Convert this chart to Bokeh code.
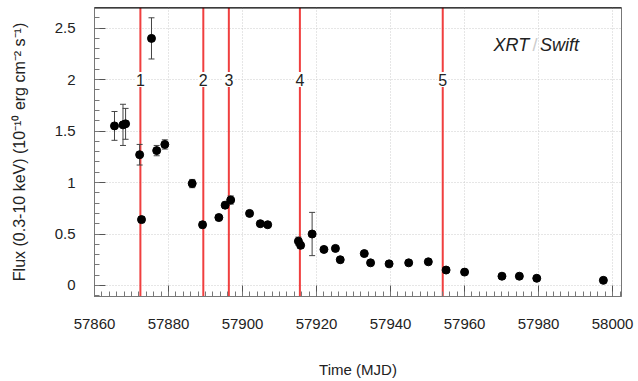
from bokeh.plotting import figure
from bokeh.models import (ColumnDataSource, Range1d, SingleIntervalTicker, Span,
                          Whisker, TeeHead, Label, LabelSet)
from bokeh.core.properties import value
from bokeh.embed import file_html
from bokeh.resources import INLINE

# ---- data ----
time_mjd = [57865.4, 57867.7, 57868.4, 57872.2, 57872.7, 57875.4, 57876.8, 57879.0,
            57886.4, 57889.2, 57893.6, 57895.3, 57896.8, 57901.9, 57904.8, 57906.8,
            57915.1, 57915.7, 57918.8, 57922.0, 57925.1, 57926.4, 57932.9, 57934.6,
            57939.6, 57944.9, 57950.2, 57955.0, 57960.0, 57970.1, 57974.8, 57979.5,
            57997.5]
flux = [1.55, 1.56, 1.57, 1.27, 0.64, 2.40, 1.31, 1.37,
        0.99, 0.59, 0.66, 0.78, 0.83, 0.70, 0.60, 0.59,
        0.43, 0.39, 0.50, 0.35, 0.36, 0.25, 0.31, 0.22,
        0.21, 0.22, 0.23, 0.15, 0.13, 0.09, 0.09, 0.07,
        0.05]
flux_err = [0.14, 0.20, 0.15, 0.10, 0.03, 0.20, 0.05, 0.045,
            0.04, 0.03, 0.03, 0.03, 0.04, 0.02, 0.02, 0.02,
            0.04, 0.03, 0.21, 0.02, 0.02, 0.02, 0.02, 0.02,
            0.02, 0.02, 0.02, 0.02, 0.02, 0.02, 0.02, 0.02,
            0.02]
epoch_mjd = [57872.4, 57889.4, 57896.3, 57915.5, 57954.1]
epoch_labels = ["1", "2", "3", "4", "5"]
epoch_label_y = [2.0, 2.0, 2.0, 2.0, 2.0]

FONT = "Liberation Sans"

src = ColumnDataSource(dict(
    t=time_mjd, f=flux,
    lo=[a - b for a, b in zip(flux, flux_err)],
    hi=[a + b for a, b in zip(flux, flux_err)],
))
epoch_src = ColumnDataSource(dict(x=epoch_mjd, y=epoch_label_y, text=epoch_labels))

p = figure(width=638, height=381, output_backend="svg", toolbar_location=None,
           x_range=Range1d(57860, 58002.4), y_range=Range1d(-0.107, 2.70),
           min_border_left=94, min_border_right=17, min_border_top=7,
           min_border_bottom=85)
p.background_fill_color = "white"
p.border_fill_color = "white"
p.outline_line_color = "#777777"
p.outline_line_width = 1

# axes
p.xaxis.ticker = SingleIntervalTicker(interval=20, num_minor_ticks=10)
p.yaxis.ticker = SingleIntervalTicker(interval=0.5, num_minor_ticks=5)
for ax in (p.xaxis[0], p.yaxis[0]):
    ax.axis_line_color = "#777777"
    ax.major_tick_line_color = "#555555"
    ax.minor_tick_line_color = "#777777"
    ax.major_tick_in = 11
    ax.major_tick_out = 0
    ax.minor_tick_in = 5
    ax.minor_tick_out = 0
    ax.major_label_text_font = FONT
    ax.major_label_text_font_size = "15px"
    ax.major_label_text_color = "#222222"
    ax.axis_label_text_font = FONT
    ax.axis_label_text_font_style = "normal"
    ax.axis_label_text_color = "#222222"

p.xaxis.axis_label = "Time (MJD)"
p.xaxis.axis_label_text_font_size = "15px"
p.xaxis.major_label_standoff = 22
p.xaxis.axis_label_standoff = 29
p.yaxis.axis_label = "Flux (0.3-10 keV) (10\u207b\u00b9\u2070 erg cm\u207b\u00b2 s\u207b\u00b9)"
p.yaxis.axis_label_text_font_size = "16px"
p.yaxis.major_label_standoff = 19
p.yaxis.axis_label_standoff = 24
p.yaxis.major_label_overrides = {0: "0", 0.5: "0.5", 1: "1", 1.5: "1.5", 2: "2", 2.5: "2.5"}

# grid
for g in (p.xgrid[0], p.ygrid[0]):
    g.grid_line_color = "#cccccc"
    g.grid_line_dash = "1 2"
    g.grid_line_width = 1

# top frame line (black)
p.add_layout(Span(location=2.70, dimension="width", line_color="black", line_width=2))

# epoch lines
for xe in epoch_mjd:
    p.add_layout(Span(location=xe, dimension="height", line_color="#ee2a2a",
                      line_width=2, line_alpha=0.9, level="underlay"))

# white boxes behind epoch numbers (break the red lines)
p.rect(x="x", y="y", source=epoch_src, width=11, height=15,
       width_units="screen", height_units="screen",
       fill_color="white", line_color=None)
p.add_layout(LabelSet(x="x", y="y", text="text", source=epoch_src,
                      text_align="center", text_baseline="middle",
                      text_font=value(FONT), text_font_size="16px", text_color="#222222"))

# error bars
p.add_layout(Whisker(source=src, base="t", lower="lo", upper="hi",
                     line_color="#444444", line_width=1,
                     lower_head=TeeHead(size=6, line_color="#444444", line_width=1),
                     upper_head=TeeHead(size=6, line_color="#444444", line_width=1)))

p.scatter(x="t", y="f", source=src, marker="circle", size=8,
          fill_color="black", line_color="black")

# XRT / Swift tag
p.add_layout(Label(x=57967.8, y=2.335, text="XRT", text_font=FONT, text_font_size="18px",
                   text_font_style="italic", text_baseline="middle", text_color="#222222"))
p.add_layout(Label(x=57979.0, y=2.335, text="/", text_font=FONT, text_font_size="18px",
                   text_baseline="middle", text_align="center", text_color="#cccccc"))
p.add_layout(Label(x=57980.4, y=2.335, text="Swift", text_font=FONT, text_font_size="18px",
                   text_font_style="italic", text_baseline="middle", text_color="#222222"))

open("out.html", "w").write(file_html(p, INLINE))
